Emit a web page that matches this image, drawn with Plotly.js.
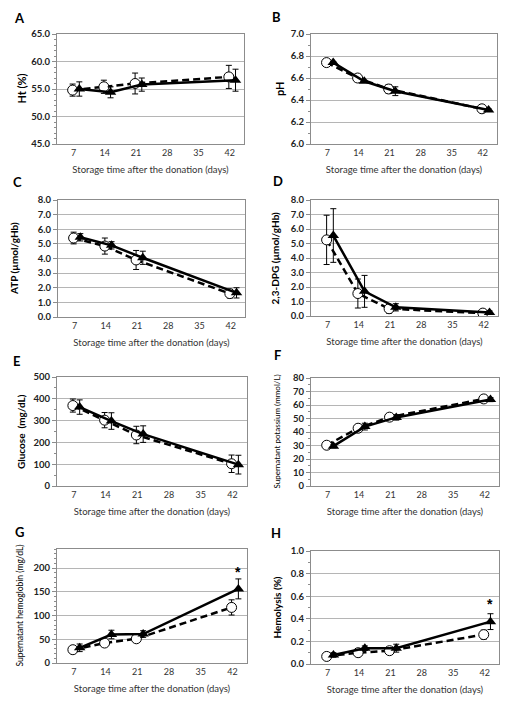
<!DOCTYPE html>
<html><head><meta charset="utf-8">
<script src="https://cdn.plot.ly/plotly-3.0.1.min.js"></script>
<style>html,body{margin:0;padding:0;background:#fff}#chart{width:525px;height:706px}</style>
</head><body><div id="chart"></div>
<script>
// ---------- data ----------
const tickDays = [7, 14, 21, 28, 35, 42];
const sampleDays = [7, 14, 21, 42];
const xTitle = 'Storage time after the donation (days)';

// A: Ht (%)
const htOpen = [54.8, 55.4, 56.0, 57.2];
const htOpenErr = [1.1, 1.2, 1.9, 2.1];
const htFilled = [55.0, 54.4, 55.8, 56.6];
const htFilledErr = [1.3, 1.0, 1.2, 2.0];
// B: pH
const phOpen = [6.74, 6.60, 6.50, 6.32];
const phOpenErr = [0.01, 0.01, 0.04, 0.01];
const phFilled = [6.74, 6.57, 6.48, 6.31];
const phFilledErr = [0.01, 0.01, 0.04, 0.01];
// C: ATP
const atpOpen = [5.4, 4.85, 3.9, 1.6];
const atpOpenErr = [0.4, 0.55, 0.65, 0.3];
const atpFilled = [5.45, 4.9, 4.05, 1.65];
const atpFilledErr = [0.25, 0.25, 0.45, 0.35];
// D: 2,3-DPG
const dpgOpen = [5.25, 1.55, 0.5, 0.2];
const dpgOpenErr = [1.7, 1.0, 0.3, 0.1];
const dpgFilled = [5.55, 1.7, 0.6, 0.25];
const dpgFilledErr = [1.85, 1.1, 0.25, 0.1];
// E: Glucose
const gluOpen = [369, 302, 234, 102];
const gluOpenErr = [30, 35, 40, 40];
const gluFilled = [362, 298, 238, 98];
const gluFilledErr = [33, 38, 38, 43];
// F: Supernatant potassium
const kOpen = [30.2, 42.8, 51.0, 64.5];
const kOpenErr = [1.0, 2.0, 1.5, 1.5];
const kFilled = [29.5, 44.0, 50.8, 64.0];
const kFilledErr = [1.2, 2.5, 2.0, 1.5];
// G: Supernatant hemoglobin
const hbOpen = [28, 42, 51, 117];
const hbOpenErr = [4, 5, 5, 16];
const hbFilled = [32, 60, 61, 156];
const hbFilledErr = [8, 9, 7, 21];
const hbAsterisk = 192;
// H: Hemolysis
const hemOpen = [0.067, 0.10, 0.118, 0.26];
const hemOpenErr = [0.01, 0.015, 0.015, 0.04];
const hemFilled = [0.08, 0.14, 0.14, 0.375];
const hemFilledErr = [0.02, 0.02, 0.035, 0.07];
const hemAsterisk = 0.53;
const asteriskDay = 42;

// ---------- layout helpers ----------
const W = 525, H = 706;
const openShift = -0.2, filledShift = 1.3;
const FONT = 'Lato, "Open Sans", sans-serif';

const panels = [
  {letter:'A', box:[57,244,34,144], lpos:[19,18], range:[45,65], dtick:5, minor:1, fmt:'.1f',
   title:'Ht (%)', tx:20.5, tsize:11, tbold:true,
   o:htOpen, oe:htOpenErr, f:htFilled, fe:htFilledErr},
  {letter:'B', box:[311,497,34,144], lpos:[276,17], range:[6,7], dtick:0.2, minor:0.1, fmt:'.1f',
   title:'pH', tx:279, tsize:11, tbold:true,
   o:phOpen, oe:phOpenErr, f:phFilled, fe:phFilledErr},
  {letter:'C', box:[58,245,200,317], lpos:[17,182], range:[0,8], dtick:1, minor:null, fmt:'.1f',
   title:'ATP (µmol/gHb)', tx:14.5, tsize:10, tbold:true,
   o:atpOpen, oe:atpOpenErr, f:atpFilled, fe:atpFilledErr},
  {letter:'D', box:[311,498,200,316], lpos:[278,181], range:[0,8], dtick:1, minor:null, fmt:'.1f',
   title:'2,3-DPG (µmol/gHb)', tx:274.5, tsize:10, tbold:true,
   o:dpgOpen, oe:dpgOpenErr, f:dpgFilled, fe:dpgFilledErr},
  {letter:'E', box:[57,247,377,486], lpos:[16,361], range:[0,500], dtick:100, minor:50, fmt:'',
   title:'Glucose  (mg/dL)', tx:20.5, tsize:10, tbold:true,
   o:gluOpen, oe:gluOpenErr, f:gluFilled, fe:gluFilledErr},
  {letter:'F', box:[311,499,378,486], lpos:[277,355], range:[0,80], dtick:10, minor:5, fmt:'',
   title:'Supernatant potassium (mmol/L)', tx:276.5, tsize:8, tbold:false,
   o:kOpen, oe:kOpenErr, f:kFilled, fe:kFilledErr},
  {letter:'G', box:[57,247,549,663], lpos:[19,532], range:[0,240], dtick:50, minor:10, fmt:'',
   title:'Supernatant hemoglobin (mg/dL)', tx:19.5, tsize:8.5, tbold:false,
   o:hbOpen, oe:hbOpenErr, f:hbFilled, fe:hbFilledErr, star:hbAsterisk},
  {letter:'H', box:[311,499,551,664], lpos:[276,533], range:[0,1], dtick:0.2, minor:0.1, fmt:'.1f',
   title:'Hemolysis (%)', tx:276, tsize:10, tbold:true,
   o:hemOpen, oe:hemOpenErr, f:hemFilled, fe:hemFilledErr, star:hemAsterisk}
];

const traces = [];
const layout = {
  width: W, height: H, autosize: false,
  margin: {l:0, r:0, t:0, b:0},
  paper_bgcolor: '#fff', plot_bgcolor: '#fff',
  showlegend: false,
  font: {family: FONT, color: '#222'},
  annotations: []
};

panels.forEach((p, i) => {
  const n = i + 1;
  const xa = 'x' + n, ya = 'y' + n;
  const xk = 'xaxis' + (n === 1 ? '' : n), yk = 'yaxis' + (n === 1 ? '' : n);
  const [l, r, t, b] = p.box;
  const errStyle = {type:'data', color:'#000', thickness:1, width:3, visible:true};
  traces.push({
    x: sampleDays.map(d => d + openShift), y: p.o, xaxis: xa, yaxis: ya,
    type: 'scatter', mode: 'lines+markers',
    line: {color:'#000', width:2.5, dash:'7px,4px'},
    marker: {symbol:'circle', size:10, color:'#fff', line:{color:'#000', width:1}},
    error_y: Object.assign({array: p.oe}, errStyle)
  });
  traces.push({
    x: sampleDays.map(d => d + filledShift), y: p.f, xaxis: xa, yaxis: ya,
    type: 'scatter', mode: 'lines+markers',
    line: {color:'#000', width:2.5},
    marker: {symbol:'triangle-up', size:10, color:'#000'},
    error_y: Object.assign({array: p.fe}, errStyle)
  });
  layout[xk] = {
    domain: [l / W, r / W], anchor: ya, range: [3.3, 45.2],
    tickvals: tickDays, ticktext: tickDays.map(String), ticks: '',
    showgrid: false, zeroline: false,
    showline: true, mirror: true, linecolor: '#8c8c8c', linewidth: 1,
    tickfont: {family: FONT, size: 9, color: '#333'},
    title: {text: xTitle, font: {family: FONT, size: 9.5, color: '#333'}, standoff: 9}
  };
  const yax = {
    domain: [1 - b / H, 1 - t / H], anchor: xa, range: p.range,
    tick0: 0, dtick: p.dtick, tickformat: p.fmt,
    ticks: 'outside', ticklen: 4, tickcolor: '#8c8c8c',
    showgrid: true, gridcolor: '#b5b5b5', gridwidth: 1, zeroline: false,
    showline: true, mirror: true, linecolor: '#8c8c8c', linewidth: 1,
    tickfont: {family: FONT, size: 9.5, color: '#222', weight: 'bold'}
  };
  if (p.minor) yax.minor = {dtick: p.minor, tick0: 0, ticks: 'outside', ticklen: 2, tickcolor: '#8c8c8c', showgrid: false};
  layout[yk] = yax;
  // panel letter
  layout.annotations.push({
    text: p.letter, xref: 'paper', yref: 'paper',
    x: p.lpos[0] / W, y: 1 - p.lpos[1] / H, xanchor: 'center', yanchor: 'middle',
    showarrow: false, font: {family: FONT, size: 13, color: '#000', weight: 'bold'}
  });
  // y-axis title
  layout.annotations.push({
    text: p.title, xref: 'paper', yref: 'paper',
    x: p.tx / W, y: 1 - (t + b) / 2 / H, xanchor: 'center', yanchor: 'middle',
    textangle: -90, showarrow: false,
    font: {family: FONT, size: p.tsize, color: '#000', weight: p.tbold ? 'bold' : 'normal'}
  });
  if (p.star !== undefined) {
    layout.annotations.push({
      text: '*', xref: xa, yref: ya, x: asteriskDay + filledShift, y: p.star,
      xanchor: 'center', yanchor: 'middle', showarrow: false,
      font: {family: '"Liberation Sans", Arial, sans-serif', size: 14, color: '#000', weight: 'bold'}
    });
  }
});

Plotly.newPlot('chart', traces, layout, {staticPlot: true, displayModeBar: false});
</script>
</body></html>
